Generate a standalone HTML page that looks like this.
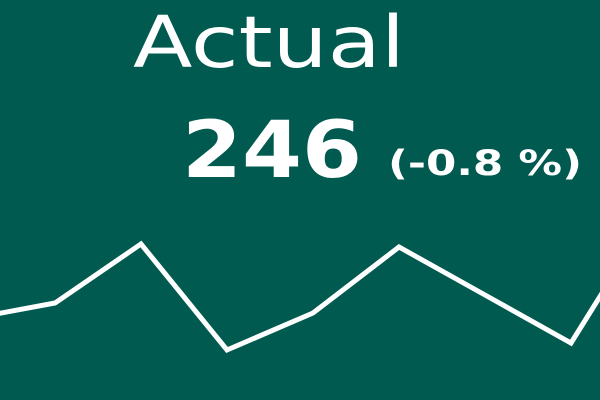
<!DOCTYPE html>
<html><head><meta charset="utf-8"><style>
html,body{margin:0;padding:0;background:#005a50;}
svg{display:block;}
text{font-family:"DejaVu Sans","Liberation Sans",sans-serif;fill:#fff;}
</style></head><body>
<svg width="600" height="400" viewBox="0 0 600 400">
<rect x="0" y="0" width="600" height="400" fill="#005a50"/>
<text x="133" y="67" font-size="71" textLength="272" lengthAdjust="spacingAndGlyphs">Actual</text>
<text x="182" y="177" font-size="78" font-weight="bold" textLength="180" lengthAdjust="spacingAndGlyphs">246</text>
<text x="388" y="175" font-size="35" font-weight="bold" textLength="194" lengthAdjust="spacingAndGlyphs">(-0.8 %)</text>
<g id="spark"></g>
</svg>
<script>
const periods = [0,1,2,3,4,5,6,7,8];
const values = [81,97,156,50,87,153,105,57,195];
const x0 = -31, step = 86;
function xScale(i){ return x0 + i*step; }
function yScale(v){ return 400 - v; }
const g = document.getElementById('spark');
const pts = periods.map((p,i)=>xScale(p)+','+yScale(values[i])).join(' ');
const line = document.createElementNS('http://www.w3.org/2000/svg','polyline');
line.setAttribute('points', pts);
line.setAttribute('fill','none');
line.setAttribute('stroke','#fff');
line.setAttribute('stroke-width','5');
line.setAttribute('stroke-linejoin','miter');


g.appendChild(line);
</script>
</body></html>
